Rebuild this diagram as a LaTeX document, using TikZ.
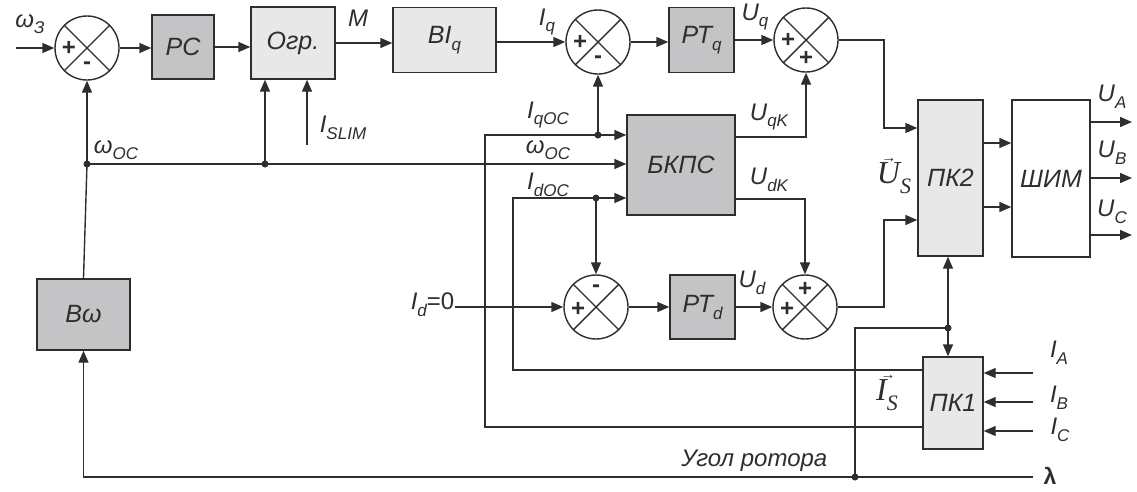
\documentclass[tikz,border=0pt]{standalone}
\usepackage{fontspec}
\setmainfont{Liberation Sans}
\newfontfamily\serifit[Scale=1]{Liberation Serif}
\usetikzlibrary{arrows.meta,calc}
\definecolor{ln}{HTML}{2E2E2E}
\definecolor{dkf}{HTML}{C4C4C6}
\definecolor{ltf}{HTML}{E8E8E8}
\newcommand\sbs[1]{\raisebox{-0.28em}{\fontsize{17}{17}\selectfont #1}}
\newcommand\vecl[2]{\serifit\itshape\rlap{\raisebox{0.66em}{\kern0.14em\fontsize{15}{15}\selectfont\upshape →}}#1\raisebox{-0.3em}{\fontsize{22}{22}\selectfont #2}}
\begin{document}
\begin{tikzpicture}[x=1pt,y=-1pt, line width=1.4pt, draw=ln, text=ln,
  blk/.style={draw=ln, line width=1.4pt, inner sep=0, font=\fontsize{25}{25}\selectfont\itshape},
  dk/.style={blk, fill=dkf}, lt/.style={blk, fill=ltf}, wh/.style={blk, fill=white},
  sum/.style={circle, draw=ln, fill=white, minimum size=64pt, inner sep=0},
  lab/.style={inner sep=0, font=\fontsize{24}{24}\selectfont\itshape},
  sg/.style={inner sep=0, font=\fontsize{24}{24}\selectfont\bfseries},
  vlab/.style={inner sep=0, font=\fontsize{32}{32}\selectfont},
  jdot/.style={circle, fill=ln, inner sep=0, minimum size=7pt},
  arr/.style={-{Triangle[length=12pt,width=10pt]}}]
\useasboundingbox (0,0) rectangle (1137,491);
% blocks
\node[dk, minimum width=62pt, minimum height=64pt] (pc) at (183,47) {РС};
\node[lt, minimum width=84pt, minimum height=72pt] (ogr) at (293,43) {Огр.};
\node[lt, minimum width=103pt, minimum height=65pt] (biq) at (444.5,40) {BI\sbs{q}};
\node[dk, minimum width=65pt, minimum height=65pt] (ptq) at (701.5,40) {РТ\sbs{q}};
\node[dk, minimum width=108pt, minimum height=100pt] (bkps) at (681,165) {БКПС};
\node[lt, minimum width=65pt, minimum height=156pt] (pk2) at (950.5,178) {ПК2};
\node[wh, minimum width=78pt, minimum height=157pt] (shim) at (1051,178.5) {ШИМ};
\node[dk, minimum width=65pt, minimum height=64pt] (ptd) at (702.5,307) {РТ\sbs{d}};
\node[lt, minimum width=60pt, minimum height=92pt] (pk1) at (953,403) {ПК1};
\node[dk, minimum width=93pt, minimum height=71pt] (bw) at (83.5,314.5) {Bω};
% summing junctions
\node[sum] (s1) at (87,48) {};
\node[sum] (s2) at (598,42) {};
\node[sum] (s3) at (806,40) {};
\node[sum] (s4) at (596,307) {};
\node[sum] (s5) at (805,307) {};
\foreach \s in {s1,s2,s3,s4,s5}{
  \draw (\s.north west) -- (\s.south east) (\s.north east) -- (\s.south west);}
\node[sg] (g1a) at ($(s1)+(-18,0)$) {+};
\node[sg] (g1b) at ($(s1)+(0,18)$) {-};
\node[sg] (g2a) at ($(s2)+(-18,0)$) {+};
\node[sg] (g2b) at ($(s2)+(0,18)$) {-};
\node[sg] (g3a) at ($(s3)+(-18,0)$) {+};
\node[sg] (g3b) at ($(s3)+(0,18)$) {+};
\node[sg] (g4a) at ($(s4)+(0,-18)$) {-};
\node[sg] (g4b) at ($(s4)+(-18,2)$) {+};
\node[sg] (g5a) at ($(s5)+(0,-18)$) {+};
\node[sg] (g5b) at ($(s5)+(-18,2)$) {+};
% coordinates
\coordinate (w3) at (16,48);
\coordinate (jw1) at (87,164);
\coordinate (jw2) at (265,164);
\coordinate (isl) at (307,145);
\coordinate (u1) at (884,128);
\coordinate (u2) at (884,220);
\coordinate (p1) at (990,143);
\coordinate (p2) at (990,207);
\coordinate (oa) at (1132,122);
\coordinate (ob) at (1132,178);
\coordinate (oc) at (1132,235);
\coordinate (lam) at (1033,477);
\coordinate (jr) at (855,477);
\coordinate (jp) at (948,328);
\coordinate (jq) at (598,135);
\coordinate (xq) at (485,427);
\coordinate (jd) at (596,198);
\coordinate (xd) at (513,370);
\coordinate (ia) at (1033,373);
\coordinate (ib) at (1033,402);
\coordinate (ic) at (1033,431);
% connectors top row
\draw[arr] (w3) -- (s1.west);
\draw[arr] (s1.east) -- (pc.west |- s1.east);
\draw[arr] (pc.east) -- (ogr.west |- pc.east);
\draw[arr] (ogr.east) -- (biq.west |- ogr.east);
\draw[arr] (biq.east |- s2.west) -- (s2.west);
\draw[arr] (s2.east) -- (ptq.west |- s2.east);
\draw[arr] (ptq.east |- s3.west) -- (s3.west);
\draw[arr] (s3.east) -| (u1) -- (pk2.west |- u1);
\draw[arr] (s5.east) -| (u2) -- (pk2.west |- u2);
\draw[arr] (pk2.east |- p1) -- (shim.west |- p1);
\draw[arr] (pk2.east |- p2) -- (shim.west |- p2);
\draw[arr] (shim.east |- oa) -- (oa);
\draw[arr] (shim.east |- ob) -- (ob);
\draw[arr] (shim.east |- oc) -- (oc);
% omega feedback
\draw[arr] (jw1) -- (s1.south);
\draw[arr] (jw2) -- (jw2 |- ogr.south);
\draw[arr] (jw1) -- (bkps.west |- jw1);
\draw (jw1) -- (bw.north);
\draw[arr] (isl) -- (isl |- ogr.south);
\draw[arr] (lam) -| (bw.south);
% rotor angle
\draw (jr) |- (jp);
\draw[arr] (jp) -- (jp |- pk2.south);
\draw[arr] (jp) -- (jp |- pk1.north);
% current feedback
\draw[arr] (pk1.west |- xq) -| (xq |- jq) -- (bkps.west |- jq);
\draw[arr] (jq) -- (s2.south);
\draw[arr] (pk1.west |- xd) -| (xd |- jd) -- (bkps.west |- jd);
\draw[arr] (jd) -- (s4.north);
\draw[arr] (bkps.east |- 0,137) -| (s3.south);
\draw[arr] (bkps.east |- 0,199) -| (s5.north);
% d channel
\node[lab, anchor=east] (id0) at (455,305) {I\sbs{d}\upshape=0};
\draw[arr] (s4.west -| id0.east) -- (s4.west);
\draw[arr] (s4.east) -- (ptd.west |- s4.east);
\draw[arr] (ptd.east |- s5.west) -- (s5.west);
% PK1 inputs
\draw[arr] (ia) -- (pk1.east |- ia);
\draw[arr] (ib) -- (pk1.east |- ib);
\draw[arr] (ic) -- (pk1.east |- ic);
% dots
\foreach \j in {jw1,jw2,jq,jd,jr,jp}{\node[jdot] at (\j) {};}
% labels
\node[lab] (lw3) at (30,24) {ω\sbs{З}};
\node[lab] (lm) at (358,18) {M};
\node[lab] (liq) at (547,22) {I\sbs{q}};
\node[lab] (luq) at (755,17) {U\sbs{q}};
\node[lab] (liqoc) at (548,115) {I\sbs{qOC}};
\node[lab] (lwoc2) at (548,150) {ω\sbs{OC}};
\node[lab] (lidoc) at (548,185) {I\sbs{dOC}};
\node[lab] (luqk) at (769,117) {U\sbs{qK}};
\node[lab] (ludk) at (769,180) {U\sbs{dK}};
\node[lab] (lud) at (752,283) {U\sbs{d}};
\node[lab] (lwoc1) at (116,150) {ω\sbs{OC}};
\node[lab] (lisl) at (343,128) {I\sbs{SLIM}};
\node[vlab] (lus) at (894,176) {\vecl{U}{S}};
\node[vlab] (lis) at (887,393) {\vecl{I}{S}};
\node[lab] (lua) at (1112,97) {U\sbs{A}};
\node[lab] (lub) at (1112,153) {U\sbs{B}};
\node[lab] (luc) at (1112,212) {U\sbs{C}};
\node[lab] (lia) at (1059,353) {I\sbs{A}};
\node[lab] (lib) at (1059,398) {I\sbs{B}};
\node[lab] (lic) at (1060,430) {I\sbs{C}};
\node[inner sep=0, font=\fontsize{23}{23}\selectfont\bfseries] (llam) at (1050,476) {λ};
\node[lab, anchor=east] (lrot) at (828,461) {Угол ротора};
\end{tikzpicture}
\end{document}
